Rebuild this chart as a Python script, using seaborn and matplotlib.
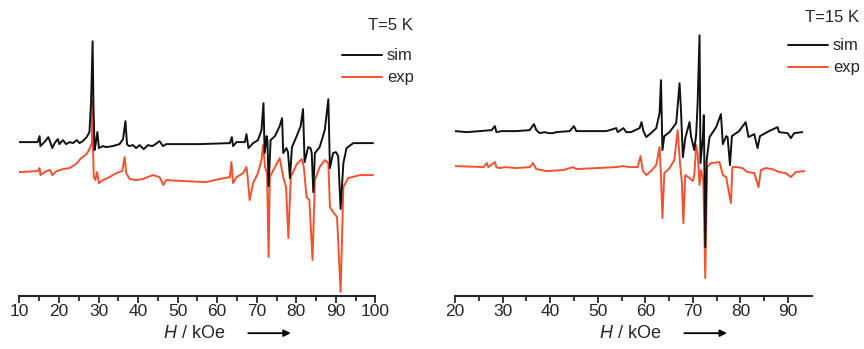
"""EPR-like field sweep: simulated vs experimental spectra at 5 K and 15 K"""
import pandas as pd
import matplotlib.pyplot as plt
import seaborn as sns

# ---- data (field in kOe, signal in arbitrary units) ----
# T = 5 K
h5_sim = [10.0, 13.4, 14.6, 15.1, 15.3, 16.3, 17.3, 17.8, 18.3, 18.9, 19.7, 20.1, 21.0, 21.8,
          22.7, 23.5, 24.5, 25.2, 26.0, 27.0, 27.7, 28.1, 28.5, 28.7, 29.0, 29.3, 29.7, 30.1,
          31.1, 31.9, 33.6, 35.3, 36.2, 36.8, 37.2, 37.7, 38.7, 39.5, 40.4, 41.4, 42.5, 43.6,
          44.4, 45.4, 46.3, 47.1, 55.6, 63.2, 63.7, 64.0, 64.9, 67.0, 67.4, 67.9, 69.1, 70.3,
          71.2, 71.7, 72.0, 72.5, 72.7, 73.0, 73.5, 74.6, 75.8, 76.4, 76.7, 77.5, 77.9, 78.4,
          78.9, 80.1, 81.1, 81.7, 82.1, 83.0, 83.6, 83.9, 84.3, 84.7, 85.9, 87.2, 88.1, 88.5,
          89.3, 90.0, 90.6, 91.2, 91.9, 92.7, 94.4, 99.4]
s5_sim = [0, 0, 0, 6, -4, 0, 5, 0, -6, -1, 3, -2, 2, -2,
          0, -1, 2, -1, 1, 5, 10, 39, 101, 39, -8, -1, 10, -6,
          -4, -5, -4, -2, 3, 21, -2, -4, -3, -6, -3, -7, -3, -4,
          -2, 1, -4, -2, -2, -1, 5, -4, 0, 0, 8, -6, -1, 2,
          12, 39, -11, 6, 2, -44, 2, 6, 16, 24, -11, -6, -10, -36,
          -5, 6, 16, 33, -20, -5, -6, -11, -50, -11, -5, 12, 43, -26,
          -11, -10, -14, -67, -21, -6, -1, -1]

h5_exp = [10.0, 14.6, 15.1, 15.3, 16.8, 17.8, 18.3, 19.4, 21.0, 22.7, 24.3, 25.6, 26.7, 27.3,
          27.9, 28.3, 28.5, 28.6, 28.8, 29.2, 29.6, 30.1, 31.1, 32.8, 34.5, 36.0, 36.6, 37.0,
          37.9, 39.5, 41.2, 43.7, 45.4, 46.4, 47.1, 51.3, 57.2, 60.5, 63.2, 63.6, 64.0, 64.9,
          66.6, 67.4, 67.7, 68.2, 69.1, 70.3, 71.2, 71.6, 72.1, 72.6, 73.0, 73.3, 74.2, 75.8,
          76.7, 77.4, 78.0, 78.6, 80.1, 81.4, 81.9, 82.6, 83.3, 84.1, 84.7, 85.9, 87.2, 88.1,
          88.5, 89.3, 90.3, 91.2, 91.9, 93.1, 96.1, 99.4]
s5_exp = [0, 1, 4, -3, 1, 2, -3, 1, 3, 4, 8, 14, 17, 20,
          25, 29, 72, 25, -5, -8, 0, -11, -8, -5, -1, 1, 15, -1,
          -7, -8, -7, -3, -5, -13, -8, -9, -10, -7, -5, 10, -11, -5,
          -1, 5, -5, -28, -11, -1, 12, 27, 5, -1, -85, -5, 2, 14,
          -5, -15, -66, -5, 8, 13, 5, -25, -28, -88, -8, 5, 12, 9,
          -35, -40, -45, -120, -15, -6, -3, -3]

# T = 15 K
h15_sim = [20.0, 22.5, 25.2, 27.7, 28.4, 28.7, 29.8, 32.9, 35.7, 36.6, 37.1, 37.8, 38.9, 39.6,
           40.6, 41.3, 44.1, 45.0, 45.5, 51.8, 53.9, 54.2, 55.4, 56.0, 57.0, 58.8, 59.2, 59.6,
           60.2, 61.2, 62.3, 63.0, 63.3, 63.6, 64.0, 65.1, 66.5, 67.2, 67.5, 67.9, 68.4, 69.3,
           69.6, 70.3, 70.7, 71.0, 71.4, 71.6, 72.1, 72.3, 72.6, 72.9, 73.5, 74.9, 75.9, 76.3,
           77.0, 77.3, 77.8, 78.2, 79.7, 81.1, 81.7, 82.9, 83.6, 84.1, 86.0, 87.8, 88.1, 89.9,
           90.6, 91.3, 93.0]
s15_sim = [0, -1, 0, 1, 5, -1, 0, 0, 1, 7, 1, -2, -1, -2,
           -2, -1, 0, 5, 0, 0, 3, -1, 3, -1, -1, 3, 9, 0,
           -6, -2, 3, 18, 51, -19, -5, -1, 8, 48, 21, -26, -7, 9,
           -5, -19, -3, 28, 96, -32, -6, 16, -116, -29, -6, 4, 17, -13,
           -5, -6, -34, -5, 0, 9, -6, -3, -17, -5, 0, 4, -1, -2,
           -7, -2, -1]

h15_exp = [20.0, 26.0, 26.7, 27.0, 28.4, 28.7, 29.3, 30.7, 32.9, 35.7, 36.4, 37.1, 39.2, 42.7,
           44.8, 45.5, 49.7, 53.9, 55.3, 56.7, 58.4, 59.0, 59.5, 60.2, 61.2, 62.3, 63.0, 63.3,
           63.6, 64.0, 65.1, 66.1, 66.8, 67.3, 67.7, 68.0, 68.4, 69.3, 70.0, 70.3, 70.7, 71.0,
           71.4, 71.7, 72.2, 72.6, 73.0, 73.8, 75.6, 76.3, 77.0, 77.6, 78.0, 78.3, 79.4, 80.4,
           81.5, 82.9, 83.8, 84.3, 85.3, 86.7, 88.1, 89.5, 90.6, 91.6, 93.4]
s15_exp = [0, -1, 3, -1, 4, -1, -2, -1, -2, -1, 3, -3, -5, -4,
           -1, -3, -2, -1, 0, -1, -1, 10, -5, -9, -5, 1, 19, -10,
           -52, -7, -2, 6, 36, 3, -17, -57, -9, -12, -15, -9, 21, 13,
           -19, -4, -14, -112, -1, 3, 4, -9, -11, -27, -37, -1, -1, -2,
           -6, -7, -21, -4, -2, -3, -6, -7, -11, -6, -5]

panels = [
    dict(title="T=5 K", h_sim=h5_sim, s_sim=s5_sim, h_exp=h5_exp, s_exp=s5_exp,
         offset=30, xlim=(10, 100), ylim=(-154, 122), xticks=range(10, 101, 10),
         title_xy=(0.979, 0.982), key_x=(0.906, 1.018), key_y=(0.873, 0.794), key_tx=1.032),
    dict(title="T=15 K", h_sim=h15_sim, s_sim=s15_sim, h_exp=h15_exp, s_exp=s15_exp,
         offset=35, xlim=(20, 95), ylim=(-165, 111), xticks=range(20, 91, 10),
         title_xy=(0.980, 1.011), key_x=(0.933, 1.045), key_y=(0.909, 0.830), key_tx=1.059),
]

SIM_COLOR = "#111111"
EXP_COLOR = "#f5512e"

sns.set_style("ticks")
plt.rcParams['font.family'] = ['Liberation Sans', 'DejaVu Sans']
plt.rcParams['mathtext.fontset'] = 'custom'
plt.rcParams['mathtext.it'] = 'Liberation Sans:italic'
plt.rcParams['mathtext.rm'] = 'Liberation Sans'

fig = plt.figure(figsize=(8.64, 3.49), dpi=100)
boxes = [[0.0225, 0.152, 0.412, 0.79], [0.5266, 0.152, 0.413, 0.79]]

for box, p in zip(boxes, panels):
    ax = fig.add_axes(box)
    sim = pd.DataFrame({'H': p['h_sim'], 'signal': p['s_sim']})
    exp = pd.DataFrame({'H': p['h_exp'], 'signal': p['s_exp']})
    exp['signal'] = exp['signal'] - p['offset']
    sns.lineplot(data=exp, x='H', y='signal', color=EXP_COLOR, lw=1.4, ax=ax,
                 estimator=None, sort=False)
    sns.lineplot(data=sim, x='H', y='signal', color=SIM_COLOR, lw=1.4, ax=ax,
                 estimator=None, sort=False)

    ax.set_xlim(*p['xlim'])
    ax.set_ylim(*p['ylim'])
    ax.set_xticks(list(p['xticks']))
    ax.set_xticks(list(range(p['xlim'][0] + 5, p['xlim'][1], 10)), minor=True)
    ax.tick_params(axis='x', which='major', direction='out', length=5, width=1.3,
                   labelsize=12.5, pad=0.5)
    ax.tick_params(axis='x', which='minor', direction='out', length=3.5, width=1.3)
    ax.set_yticks([])
    for side in ['left', 'top', 'right']:
        ax.spines[side].set_visible(False)
    ax.spines['bottom'].set_linewidth(1.5)
    ax.set_xlabel('')
    ax.set_ylabel('')

    # field label with arrow
    ax.text(0.49, -0.135, r'$\it{H}$ / kOe', transform=ax.transAxes, ha='center',
            va='center', fontsize=13)
    ax.annotate('', xy=(0.77, -0.135), xytext=(0.635, -0.135), xycoords='axes fraction',
                arrowprops=dict(arrowstyle='-|>', color='black', lw=1.3,
                                mutation_scale=10))

    # temperature and key, upper right
    ax.text(p['title_xy'][0], p['title_xy'][1], p['title'], transform=ax.transAxes,
            ha='left', va='center', fontsize=12)
    for yk, col, lab in zip(p['key_y'], [SIM_COLOR, EXP_COLOR], ['sim', 'exp']):
        ax.plot(p['key_x'], [yk, yk], transform=ax.transAxes, color=col, lw=1.4,
                clip_on=False)
        ax.text(p['key_tx'], yk, lab, transform=ax.transAxes, ha='left', va='center',
                fontsize=12)

fig.savefig('out.png', dpi=100)
